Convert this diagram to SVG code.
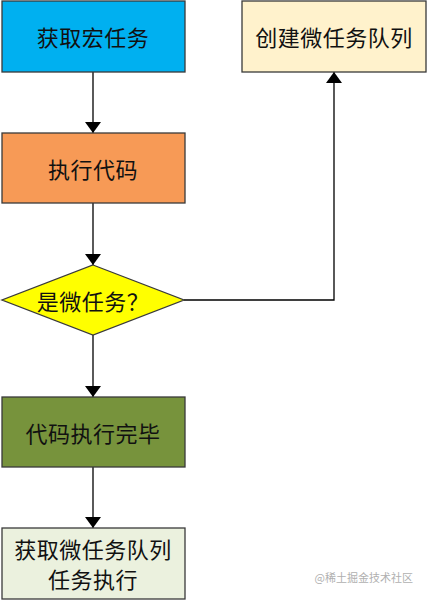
<svg xmlns="http://www.w3.org/2000/svg" width="427" height="601" viewBox="0 0 427 601">
<style>
.n{stroke:#3a3a3a;stroke-width:1.3}
.t{font-family:"Noto Sans CJK SC","Noto Sans",sans-serif;font-size:22px;fill:#111;text-anchor:middle;dominant-baseline:central;letter-spacing:0.5px}
.c{fill:none;stroke:#000;stroke-width:1.3}
</style>
<defs>
<marker id="ah" viewBox="0 0 11 16" refX="11" refY="8" markerWidth="11" markerHeight="16" markerUnits="userSpaceOnUse" orient="auto">
<path d="M0,0 L11,8 L0,16 Z" fill="#000"/>
</marker>
</defs>
<rect width="427" height="601" fill="#fff"/>
<g id="connectors">
<line class="c" x1="93" y1="72" x2="93" y2="133" marker-end="url(#ah)"/>
<line class="c" x1="93" y1="203" x2="93" y2="265" marker-end="url(#ah)"/>
<line class="c" x1="93" y1="335" x2="93" y2="397" marker-end="url(#ah)"/>
<line class="c" x1="93" y1="467" x2="93" y2="528" marker-end="url(#ah)"/>
<polyline class="c" points="184,300 334,300 334,72" marker-end="url(#ah)"/>
</g>
<g id="n1"><rect class="n" x="2" y="1" width="183" height="71" fill="#00B0F0"/><text class="t" x="93" y="36">获取宏任务</text></g>
<g id="n2"><rect class="n" x="2" y="133" width="183" height="70" fill="#F79A56"/><text class="t" x="93" y="168">执行代码</text></g>
<g id="n3"><polygon class="n" points="93,265 184,300 93,335 2,300" fill="#FFFF00"/><text class="t" x="93" y="300">是微任务？</text></g>
<g id="n4"><rect class="n" x="2" y="397" width="183" height="70" fill="#77933C"/><text class="t" x="93" y="432">代码执行完毕</text></g>
<g id="n5"><rect class="n" x="2" y="528" width="183" height="71" fill="#EBF1DE"/><text class="t" x="93" y="548">获取微任务队列</text><text class="t" x="93" y="578">任务执行</text></g>
<g id="n6"><rect class="n" x="242" y="1" width="184" height="71" fill="#FFF2CC"/><text class="t" x="334" y="36">创建微任务队列</text></g>
<text x="413" y="582" font-family="Noto Sans CJK SC,sans-serif" font-size="11" fill="#b0b0b0" text-anchor="end">@稀土掘金技术社区</text>
</svg>
